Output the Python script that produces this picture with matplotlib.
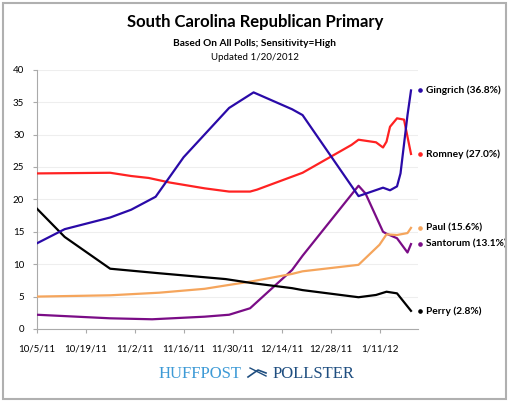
import matplotlib
matplotlib.use("Agg")
import matplotlib.pyplot as plt
from matplotlib.lines import Line2D
from matplotlib.patches import Rectangle
import pandas as pd

plt.rcParams['font.family'] = ['Lato', 'DejaVu Sans']

start = pd.Timestamp("2011-10-05")

# day offsets from 10/5/11 and values (%)
gingrich_days = [0, 8, 21, 27, 34, 42, 55, 62, 73, 76, 92, 99, 101, 103, 104, 105, 106, 107]
gingrich_vals = [13.2, 15.4, 17.2, 18.4, 20.4, 26.5, 34.1, 36.5, 33.9, 33.0, 20.5, 21.8, 21.4, 22.0, 24.0, 28.5, 33.0, 36.8]

romney_days = [0, 21, 27, 32, 38, 48, 55, 61, 63, 76, 90, 92, 97, 99, 100, 101, 103, 105, 107]
romney_vals = [24.0, 24.1, 23.6, 23.3, 22.6, 21.7, 21.2, 21.2, 21.5, 24.1, 28.4, 29.2, 28.8, 28.0, 28.9, 31.2, 32.5, 32.3, 27.0]

perry_days = [0, 8, 21, 35, 54, 62, 73, 76, 92, 97, 100, 103, 107]
perry_vals = [18.6, 14.2, 9.3, 8.6, 7.7, 7.05, 6.3, 6.0, 4.9, 5.25, 5.75, 5.5, 2.8]

paul_days = [0, 21, 35, 48, 55, 61, 73, 76, 92, 98, 100, 103, 106, 107]
paul_vals = [5.0, 5.2, 5.6, 6.2, 6.8, 7.3, 8.5, 8.9, 9.9, 13.0, 14.6, 14.5, 14.8, 15.6]

santorum_days = [0, 21, 33, 48, 55, 61, 73, 76, 92, 94, 99, 100, 103, 106, 107]
santorum_vals = [2.2, 1.65, 1.5, 1.9, 2.2, 3.2, 9.1, 11.3, 22.1, 20.9, 15.0, 14.7, 14.0, 11.8, 13.1]

names = ["Gingrich", "Romney", "Paul", "Santorum", "Perry"]
finals = [36.8, 27.0, 15.6, 13.1, 2.8]
label_y = [36.8, 27.0, 15.6, 13.1, 2.8]

tick_labels = ["10/5/11", "10/19/11", "11/2/11", "11/16/11", "11/30/11", "12/14/11", "12/28/11", "1/11/12"]

colors = {"Gingrich": "#2a0aa8", "Romney": "#ff2222", "Paul": "#f5a55c",
          "Santorum": "#7a0c86", "Perry": "#000000"}
series = {"Gingrich": (gingrich_days, gingrich_vals),
          "Romney": (romney_days, romney_vals),
          "Paul": (paul_days, paul_vals),
          "Santorum": (santorum_days, santorum_vals),
          "Perry": (perry_days, perry_vals)}

fig = plt.figure(figsize=(5.10, 4.04), dpi=100)
fig.add_artist(Rectangle((3/510, 1 - 399/404), 503/510, 396/404, transform=fig.transFigure,
                         fill=False, edgecolor="#b0b0b0", linewidth=1.5))

ax = fig.add_axes([36.7/510, 1 - 329/404, (418 - 36.7)/510, (329 - 69.7)/404])

order = ["Santorum", "Paul", "Perry", "Romney", "Gingrich"]
for n in order:
    d, v = series[n]
    dates = [start + pd.Timedelta(days=x) for x in d]
    ax.plot(dates, v, color=colors[n], linewidth=1.6, solid_joinstyle="round", zorder=3)

ax.set_ylim(0, 40)
ax.set_xlim(start, start + pd.Timedelta(days=109))
ax.set_yticks(range(0, 41, 5))
ax.set_xticks([start + pd.Timedelta(days=14 * i) for i in range(len(tick_labels))])
ax.set_xticklabels(tick_labels)
ax.tick_params(axis="both", labelsize=7, colors="#000000", length=3, width=0.8)
ax.tick_params(axis="x", pad=8, color="#aaaaaa")
ax.tick_params(axis="y", pad=6, color="#aaaaaa")
for lab in ax.get_yticklabels() + ax.get_xticklabels():
    lab.set_color("black")
ax.grid(axis="y", color="#eeeeee", linewidth=0.8)
ax.set_axisbelow(True)
for s in ["top", "right"]:
    ax.spines[s].set_visible(False)
for s in ["left", "bottom"]:
    ax.spines[s].set_color("#aaaaaa")
    ax.spines[s].set_linewidth(0.8)

# end labels
end_date = start + pd.Timedelta(days=109.7)
for n, f, ly in zip(names, finals, label_y):
    ax.plot([end_date], [ly], marker="o", markersize=2.3, color=colors[n], clip_on=False, zorder=4)
    ax.annotate(f"{n} ({f:.1f}%)", xy=(end_date, ly), xytext=(4, 0), textcoords="offset points",
                va="center", ha="left", fontsize=7.3, fontweight="bold", annotation_clip=False)

fig.text(0.5, 1 - 22/404, "South Carolina Republican Primary", ha="center", va="center",
         fontsize=12, fontweight="bold")
fig.text(0.5, 1 - 43/404, "Based On All Polls; Sensitivity=High", ha="center", va="center",
         fontsize=7.3, fontweight="bold")
fig.text(0.5, 1 - 58/404, "Updated 1/20/2012", ha="center", va="center", fontsize=7)

# logo
fig.text(242/510, 1 - 374/404, "HUFFPOST", ha="right", va="center", fontsize=12,
         family="Liberation Serif", color="#3d9ad6")
fig.text(273/510, 1 - 374/404, "POLLSTER", ha="left", va="center", fontsize=12,
         family="Liberation Serif", color="#1f4e80")
fig.add_artist(Line2D([248/510, 258/510, 266/510], [1 - 377/404, 1 - 370/404, 1 - 373/404],
                      transform=fig.transFigure, color="#1f4e80", linewidth=1.2))
fig.add_artist(Line2D([250/510, 258/510, 266/510], [1 - 368/404, 1 - 372/404, 1 - 376/404],
                      transform=fig.transFigure, color="#1f4e80", linewidth=1.0))

fig.savefig("out.png", dpi=100)
